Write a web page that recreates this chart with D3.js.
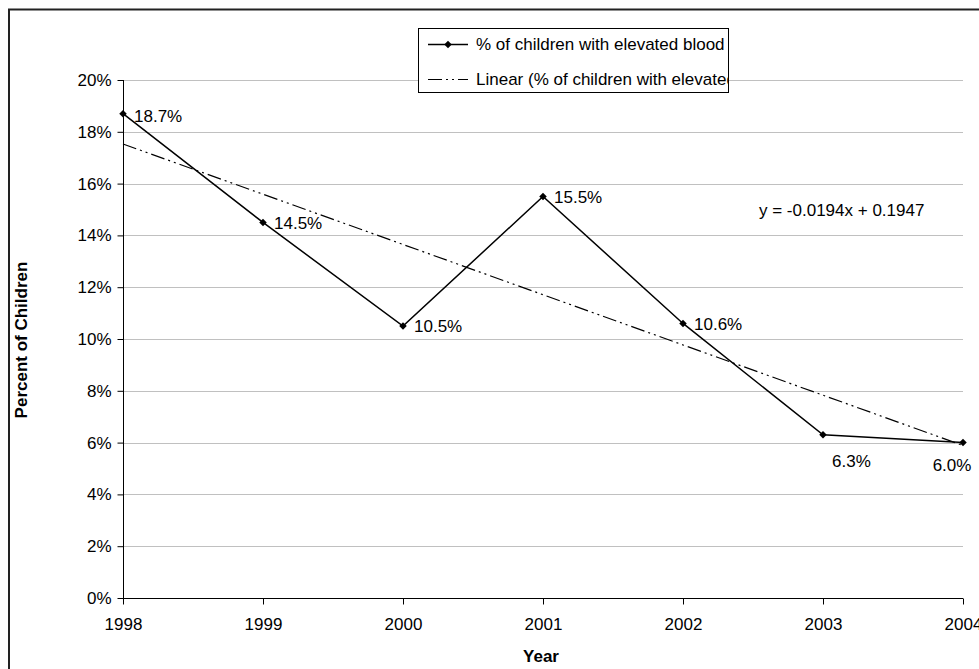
<!DOCTYPE html>
<html>
<head>
<meta charset="utf-8">
<script src="https://cdn.jsdelivr.net/npm/d3@7"></script>
<style>
  html, body { margin: 0; padding: 0; background: #fff; }
  svg { display: block; }
  text { font-family: "Liberation Sans", Arial, sans-serif; fill: #000; }
</style>
</head>
<body>
<svg id="chart" width="979" height="669"></svg>
<script>
// ---- data ----
const years = [1998, 1999, 2000, 2001, 2002, 2003, 2004];
const values = [0.187, 0.145, 0.105, 0.155, 0.106, 0.063, 0.060];
const valueLabels = ["18.7%", "14.5%", "10.5%", "15.5%", "10.6%", "6.3%", "6.0%"];
const yTicks = [0, 0.02, 0.04, 0.06, 0.08, 0.10, 0.12, 0.14, 0.16, 0.18, 0.20];
const trendSlope = -0.0194;
const trendIntercept = 0.1947;
const seriesName = "% of children with elevated blood lead levels";
const trendName = "Linear (% of children with elevated blood lead levels)";
const equationText = "y = -0.0194x + 0.1947";
const yTitle = "Percent of Children";
const xTitle = "Year";

// ---- layout ----
const svg = d3.select("#chart");
const FS = 17;
const plot = { left: 123, right: 963, top: 80, bottom: 598 };

const x = d3.scalePoint().domain(years).range([plot.left, plot.right]);
const y = d3.scaleLinear().domain([0, 0.20]).range([plot.bottom, plot.top]);

// outer frame
svg.append("rect")
  .attr("x", 9).attr("y", 9.5).attr("width", 1000).attr("height", 700)
  .attr("fill", "none").attr("stroke", "#222").attr("stroke-width", 2);

// gridlines
svg.append("g").selectAll("line")
  .data(yTicks.filter(d => d > 0))
  .join("line")
  .attr("x1", plot.left).attr("x2", plot.right)
  .attr("y1", d => Math.round(y(d)) + 0.5).attr("y2", d => Math.round(y(d)) + 0.5)
  .attr("stroke", "#c0c0c0").attr("stroke-width", 1);

// y axis
const yAxis = d3.axisLeft(y).tickValues(yTicks)
  .tickFormat(d => Math.round(d * 100) + "%").tickSize(6).tickPadding(6);
const gy = svg.append("g").attr("transform", `translate(${plot.left + 0.5},0)`).call(yAxis);
gy.select(".domain").attr("stroke", "#000").attr("d", `M0,${plot.top}V${plot.bottom}`);
gy.selectAll(".tick line").attr("stroke", "#000");
gy.selectAll(".tick text").style("font-size", FS + "px").attr("fill", "#000")
  .style("font-family", "Liberation Sans, Arial, sans-serif");

// x axis
const xAxis = d3.axisBottom(x).tickSize(6).tickPadding(13);
const gx = svg.append("g").attr("transform", `translate(0,${plot.bottom + 0.5})`).call(xAxis);
gx.select(".domain").attr("stroke", "#000").attr("d", `M${plot.left},0H${plot.right}`);
gx.selectAll(".tick line").attr("stroke", "#000");
gx.selectAll(".tick text").style("font-size", FS + "px").attr("fill", "#000")
  .style("font-family", "Liberation Sans, Arial, sans-serif");

// trendline
const trendDash = "14,4,2,4,2,4";
const trendData = years.map((yr, i) => ({ yr, v: trendSlope * (i + 1) + trendIntercept }));
svg.append("path")
  .datum(trendData)
  .attr("fill", "none").attr("stroke", "#000").attr("stroke-width", 1.2)
  .attr("stroke-dasharray", trendDash)
  .attr("d", d3.line().x(d => x(d.yr)).y(d => y(d.v)));

// series line
const pts = years.map((yr, i) => ({ yr, v: values[i], label: valueLabels[i], i }));
svg.append("path")
  .datum(pts)
  .attr("fill", "none").attr("stroke", "#000").attr("stroke-width", 1.5)
  .attr("d", d3.line().x(d => x(d.yr)).y(d => y(d.v)));

svg.append("g").selectAll("path")
  .data(pts).join("path")
  .attr("d", d3.symbol().type(d3.symbolSquare).size(28))
  .attr("transform", d => `translate(${x(d.yr)},${y(d.v)}) rotate(45)`)
  .attr("fill", "#000");

// data labels
const labelOffsets = [
  { dx: 11, dy: 2, anchor: "start" },
  { dx: 11, dy: 1, anchor: "start" },
  { dx: 11, dy: 0, anchor: "start" },
  { dx: 11, dy: 0, anchor: "start" },
  { dx: 11, dy: 1, anchor: "start" },
  { dx: 9, dy: 26, anchor: "start" },
  { dx: -11, dy: 22, anchor: "middle" }
];
svg.append("g").selectAll("text")
  .data(pts).join("text")
  .attr("x", d => x(d.yr) + labelOffsets[d.i].dx)
  .attr("y", d => y(d.v) + labelOffsets[d.i].dy)
  .attr("dy", "0.35em")
  .attr("text-anchor", d => labelOffsets[d.i].anchor)
  .style("font-size", FS + "px")
  .text(d => d.label);

// equation
svg.append("text")
  .attr("x", 759).attr("y", 216)
  .style("font-size", FS + "px")
  .text(equationText);

// axis titles
svg.append("text")
  .attr("transform", "translate(21,340) rotate(-90)")
  .attr("text-anchor", "middle").attr("dy", "0.35em")
  .style("font-size", FS + "px").style("font-weight", "bold")
  .text(yTitle);
svg.append("text")
  .attr("x", 541).attr("y", 662)
  .attr("text-anchor", "middle")
  .style("font-size", FS + "px").style("font-weight", "bold")
  .text(xTitle);

// legend (box is narrower than its entries; text is clipped at the box edge as in the reference)
const lgBox = { x: 418.5, y: 28.5, w: 310, h: 64 };
svg.append("defs").append("clipPath").attr("id", "legendClip")
  .append("rect").attr("x", lgBox.x).attr("y", lgBox.y).attr("width", lgBox.w).attr("height", lgBox.h);
const lg = svg.append("g");
lg.append("rect").attr("x", lgBox.x).attr("y", lgBox.y).attr("width", lgBox.w).attr("height", lgBox.h)
  .attr("fill", "#fff");
const lgInner = lg.append("g").attr("clip-path", "url(#legendClip)");
const rowsY = [44, 79];
lgInner.append("line").attr("x1", 428).attr("x2", 468).attr("y1", rowsY[0] + 0.5).attr("y2", rowsY[0] + 0.5)
  .attr("stroke", "#000").attr("stroke-width", 1.5);
lgInner.append("path").attr("d", d3.symbol().type(d3.symbolSquare).size(28))
  .attr("transform", `translate(448,${rowsY[0] + 0.5}) rotate(45)`).attr("fill", "#000");
lgInner.append("line").attr("x1", 428).attr("x2", 468).attr("y1", rowsY[1] + 0.5).attr("y2", rowsY[1] + 0.5)
  .attr("stroke", "#000").attr("stroke-width", 1.2).attr("stroke-dasharray", trendDash);
lgInner.append("text").attr("x", 476).attr("y", rowsY[0]).attr("dy", "0.35em")
  .style("font-size", FS + "px").text(seriesName);
lgInner.append("text").attr("x", 476).attr("y", rowsY[1]).attr("dy", "0.35em")
  .style("font-size", FS + "px").text(trendName);
lg.append("rect").attr("x", lgBox.x).attr("y", lgBox.y).attr("width", lgBox.w).attr("height", lgBox.h)
  .attr("fill", "none").attr("stroke", "#000").attr("stroke-width", 1);
</script>
</body>
</html>
